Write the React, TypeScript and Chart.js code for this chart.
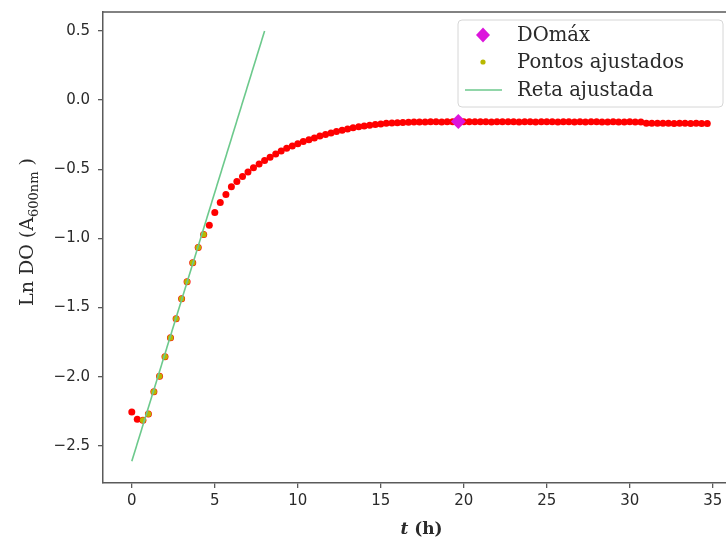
import React, { useEffect, useRef } from 'react';
import { Chart, registerables } from 'chart.js';

Chart.register(...registerables);

// ---------- data ----------
const timeH = [
  0, 0.33, 0.67, 1, 1.33, 1.67, 2, 2.33, 2.67, 3, 3.33, 3.67, 4, 4.33, 4.67,
  5, 5.33, 5.67, 6, 6.33, 6.67, 7, 7.33, 7.67, 8, 8.33, 8.67, 9, 9.33, 9.67,
  10, 10.33, 10.67, 11, 11.33, 11.67, 12, 12.33, 12.67, 13, 13.33, 13.67, 14, 14.33, 14.67,
  15, 15.33, 15.67, 16, 16.33, 16.67, 17, 17.33, 17.67, 18, 18.33, 18.67, 19, 19.33, 19.67,
  20, 20.33, 20.67, 21, 21.33, 21.67, 22, 22.33, 22.67, 23, 23.33, 23.67, 24, 24.33, 24.67,
  25, 25.33, 25.67, 26, 26.33, 26.67, 27, 27.33, 27.67, 28, 28.33, 28.67, 29, 29.33, 29.67,
  30, 30.33, 30.67, 31, 31.33, 31.67, 32, 32.33, 32.67, 33, 33.33, 33.67, 34, 34.33, 34.67,
];

const lnDO = [
  -2.254, -2.307, -2.314, -2.27, -2.109, -1.996, -1.856, -1.718, -1.581, -1.436, -1.313, -1.176, -1.065, -0.971, -0.905,
  -0.812, -0.74, -0.682, -0.627, -0.588, -0.552, -0.52, -0.489, -0.462, -0.437, -0.413, -0.39, -0.367, -0.348, -0.331,
  -0.315, -0.3, -0.286, -0.273, -0.26, -0.248, -0.237, -0.227, -0.217, -0.208, -0.2, -0.193, -0.187, -0.181, -0.176,
  -0.172, -0.168, -0.165, -0.163, -0.161, -0.16, -0.159, -0.158, -0.158, -0.157, -0.157, -0.158, -0.157, -0.156, -0.155,
  -0.156, -0.157, -0.157, -0.156, -0.157, -0.158, -0.157, -0.157, -0.156, -0.157, -0.158, -0.157, -0.157, -0.158, -0.157,
  -0.156, -0.157, -0.158, -0.157, -0.157, -0.158, -0.157, -0.158, -0.157, -0.157, -0.158, -0.158, -0.157, -0.158, -0.158,
  -0.157, -0.158, -0.159, -0.167, -0.168, -0.168, -0.167, -0.168, -0.169, -0.168, -0.168, -0.169, -0.168, -0.169, -0.169,
];

const fitTimeH = [0.67, 1, 1.33, 1.67, 2, 2.33, 2.67, 3, 3.33, 3.67, 4, 4.33];
const fitLnDO = [-2.314, -2.27, -2.109, -1.996, -1.856, -1.718, -1.581, -1.436, -1.313, -1.176, -1.065, -0.971];

const lineTimeH = [0, 8];
const lineLnDO = [-2.61, 0.5];

const maxTimeH = [19.67];
const maxLnDO = [-0.155];

const xTickValues = [0, 5, 10, 15, 20, 25, 30, 35];
const xTickLabels = ['0', '5', '10', '15', '20', '25', '30', '35'];
const yTickValues = [0.5, 0, -0.5, -1, -1.5, -2, -2.5];
const yTickLabels = ['0.5', '0.0', '\u22120.5', '\u22121.0', '\u22121.5', '\u22122.0', '\u22122.5'];

const legendLabels = ['DOm\u00e1x', 'Pontos ajustados', 'Reta ajustada'];
const xTitleParts = ['t', ' (h)'];
const yTitleParts = ['Ln DO (A', '600nm', ' )'];

// ---------- styles ----------
const RED = '#ff0000';
const OLIVE = '#b8b800';
const MAGENTA = '#dc14dc';
const GREEN = '#6cc98c';
const AXIS = '#5a5a5a';
const TEXT = '#2a2a2a';
const SERIF = '"DejaVu Serif", serif';

const CANVAS_W = 760;
const CANVAS_H = 541;

const pts = (xs: number[], ys: number[]) => xs.map((x, i) => ({ x, y: ys[i] }));

const decorPlugin = {
  id: 'decor',
  afterDraw(chart: any) {
    const { ctx, chartArea: a } = chart;
    ctx.save();
    // top & right spines
    ctx.strokeStyle = AXIS;
    ctx.lineWidth = 1.5;
    ctx.beginPath();
    ctx.moveTo(a.left, a.top);
    ctx.lineTo(a.right, a.top);
    ctx.lineTo(a.right, a.bottom);
    ctx.stroke();

    // x title
    ctx.fillStyle = TEXT;
    ctx.textBaseline = 'alphabetic';
    const fT = 'bold italic 17px ' + SERIF;
    const fH = 'bold 17px ' + SERIF;
    ctx.font = fT;
    const wT = ctx.measureText(xTitleParts[0]).width;
    ctx.font = fH;
    const wH = ctx.measureText(xTitleParts[1]).width;
    const cx = (a.left + a.right) / 2 + 2;
    const x0 = cx - (wT + wH) / 2;
    const by = 534;
    ctx.font = fT;
    ctx.fillText(xTitleParts[0], x0, by);
    ctx.font = fH;
    ctx.fillText(xTitleParts[1], x0 + wT, by);

    // y title (rotated)
    const fMain = '19px ' + SERIF;
    const fSub = '13px ' + SERIF;
    ctx.font = fMain;
    const w1 = ctx.measureText(yTitleParts[0]).width;
    const w3 = ctx.measureText(yTitleParts[2]).width;
    ctx.font = fSub;
    const w2 = ctx.measureText(yTitleParts[1]).width;
    const total = w1 + w2 + w3;
    ctx.save();
    ctx.translate(33, 232);
    ctx.rotate(-Math.PI / 2);
    let tx = -total / 2;
    ctx.font = fMain;
    ctx.fillText(yTitleParts[0], tx, 0);
    tx += w1;
    ctx.font = fSub;
    ctx.fillText(yTitleParts[1], tx, 5);
    tx += w2;
    ctx.font = fMain;
    ctx.fillText(yTitleParts[2], tx, 0);
    ctx.restore();

    // legend
    const lx = 458, ly = 20, lw = 265, lh = 87;
    ctx.beginPath();
    if (ctx.roundRect) ctx.roundRect(lx, ly, lw, lh, 4);
    else ctx.rect(lx, ly, lw, lh);
    ctx.fillStyle = 'rgba(255,255,255,0.85)';
    ctx.fill();
    ctx.strokeStyle = '#d6d6d6';
    ctx.lineWidth = 1;
    ctx.stroke();

    const mx = 483;
    const rows = [35, 62, 90];
    // diamond
    ctx.fillStyle = MAGENTA;
    ctx.beginPath();
    ctx.moveTo(mx, rows[0] - 7.5);
    ctx.lineTo(mx + 7, rows[0]);
    ctx.lineTo(mx, rows[0] + 7.5);
    ctx.lineTo(mx - 7, rows[0]);
    ctx.closePath();
    ctx.fill();
    // dot
    ctx.fillStyle = OLIVE;
    ctx.beginPath();
    ctx.arc(mx, rows[1], 2.6, 0, Math.PI * 2);
    ctx.fill();
    // line
    ctx.strokeStyle = GREEN;
    ctx.lineWidth = 1.6;
    ctx.beginPath();
    ctx.moveTo(465, rows[2]);
    ctx.lineTo(502, rows[2]);
    ctx.stroke();

    ctx.fillStyle = TEXT;
    ctx.font = '19.6px ' + SERIF;
    ctx.textBaseline = 'middle';
    legendLabels.forEach((t, i) => ctx.fillText(t, 517, rows[i] + 1));
    ctx.restore();
  },
};

export default function App() {
  const ref = useRef<HTMLCanvasElement | null>(null);

  useEffect(() => {
    if (!ref.current) return;
    const chart = new Chart(ref.current, {
      type: 'scatter',
      data: {
        datasets: [
          {
            type: 'line',
            label: legendLabels[2],
            data: pts(lineTimeH, lineLnDO),
            borderColor: GREEN,
            borderWidth: 1.6,
            pointRadius: 0,
            showLine: true,
            fill: false,
            order: 0,
          },
          {
            label: legendLabels[0],
            data: pts(maxTimeH, maxLnDO),
            backgroundColor: MAGENTA,
            borderWidth: 0,
            pointStyle: 'rectRot',
            pointRadius: 7.5,
            order: 1,
          },
          {
            label: legendLabels[1],
            data: pts(fitTimeH, fitLnDO),
            backgroundColor: OLIVE,
            borderWidth: 0,
            pointRadius: 3,
            order: 2,
          },
          {
            label: 'DO',
            data: pts(timeH, lnDO),
            backgroundColor: RED,
            borderWidth: 0,
            pointRadius: 3.5,
            order: 3,
          },
        ],
      },
      options: {
        animation: false,
        responsive: false,
        devicePixelRatio: 1,
        layout: { padding: { top: 12, left: 0, right: CANVAS_W - 736, bottom: 0 } },
        plugins: { legend: { display: false }, tooltip: { enabled: false } },
        scales: {
          x: {
            type: 'linear',
            min: -1.735,
            max: 36.4,
            afterBuildTicks: (s: any) => {
              s.ticks = xTickValues.map((v) => ({ value: v }));
            },
            afterFit: (s: any) => {
              s.height = 58;
              s.paddingLeft = 0;
              s.paddingRight = 0;
            },
            ticks: {
              color: TEXT,
              font: { family: '"DejaVu Sans"', size: 15 },
              padding: 4,
              maxRotation: 0,
              autoSkip: false,
              callback: (v: any) => {
                const i = xTickValues.indexOf(Number(v));
                return i >= 0 ? xTickLabels[i] : '';
              },
            },
            grid: { display: true, drawOnChartArea: false, drawTicks: true, tickLength: 5, color: AXIS, lineWidth: 1.3 },
            border: { display: true, color: AXIS, width: 1.5 },
          },
          y: {
            type: 'linear',
            min: -2.768,
            max: 0.637,
            afterBuildTicks: (s: any) => {
              s.ticks = yTickValues.map((v) => ({ value: v }));
            },
            afterFit: (s: any) => {
              s.width = 103;
              s.paddingTop = 0;
              s.paddingBottom = 0;
            },
            ticks: {
              color: TEXT,
              font: { family: '"DejaVu Sans"', size: 15 },
              padding: 8,
              autoSkip: false,
              callback: (v: any) => {
                const i = yTickValues.indexOf(Number(v));
                return i >= 0 ? yTickLabels[i] : '';
              },
            },
            grid: { display: true, drawOnChartArea: false, drawTicks: true, tickLength: 5, color: AXIS, lineWidth: 1.3 },
            border: { display: true, color: AXIS, width: 1.5 },
          },
        },
      },
      plugins: [decorPlugin],
    } as any);
    return () => chart.destroy();
  }, []);

  return (
    <div
      style={{
        position: 'absolute',
        left: 0,
        top: 0,
        width: 726,
        height: 541,
        overflow: 'hidden',
        background: '#ffffff',
      }}
    >
      <canvas ref={ref} width={CANVAS_W} height={CANVAS_H} style={{ display: 'block', width: CANVAS_W, height: CANVAS_H }} />
    </div>
  );
}
